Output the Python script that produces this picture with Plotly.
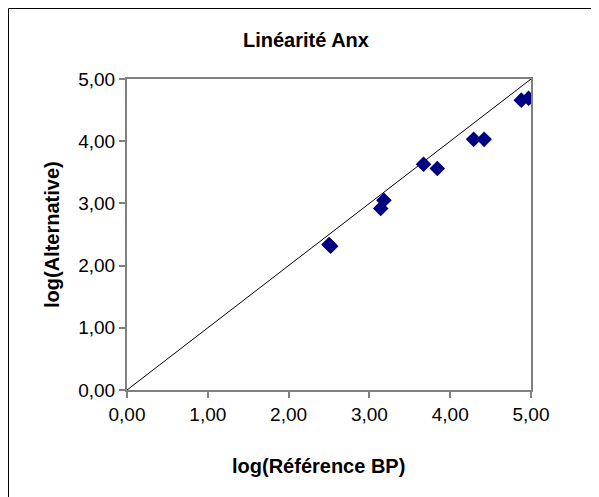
import plotly.graph_objects as go

ref_bp = [2.50, 2.52, 3.14, 3.18, 3.67, 3.84, 4.29, 4.42, 4.88, 4.97]
alternative = [2.34, 2.31, 2.92, 3.05, 3.63, 3.56, 4.03, 4.03, 4.66, 4.69]
identity_x = [0, 5]
identity_y = [0, 5]
tick_vals = [0, 1, 2, 3, 4, 5]

W, H = 599, 497
L, R, T, B = 119, 76, 71, 115
pw, ph = W - L - R, H - T - B

def px(x):
    return (x - L) / pw

def py(y):
    return (H - B - y) / ph

fig = go.Figure()
fig.add_trace(go.Scatter(x=identity_x, y=identity_y, mode="lines",
                         line=dict(color="black", width=1), hoverinfo="skip"))
fig.add_trace(go.Scatter(x=ref_bp, y=alternative, mode="markers",
                         marker=dict(symbol="diamond", size=12, color="#000080",
                                     line=dict(width=0))))

axis_common = dict(range=[0, 5], tickvals=tick_vals, tickformat=".2f",
                   showgrid=False, zeroline=False, showline=True, mirror=True,
                   linecolor="#808080", linewidth=2, ticks="outside",
                   ticklen=6, tickwidth=2, tickcolor="#808080",
                   tickfont=dict(family="Liberation Sans, Arial", size=19, color="black"))

fig.update_layout(
    width=W, height=H, autosize=False,
    margin=dict(l=L, r=R, t=T, b=B),
    separators=", ",
    paper_bgcolor="white", plot_bgcolor="white",
    showlegend=False,
    xaxis=dict(**axis_common),
    yaxis=dict(**axis_common),
    font=dict(family="Liberation Sans, Arial", color="black"),
    annotations=[
        dict(text="<b>Linéarité Anx</b>", x=px(298), y=py(32), xref="paper", yref="paper",
             showarrow=False, xanchor="center", yanchor="middle",
             font=dict(size=20, family="Liberation Sans, Arial", color="black")),
        dict(text="<b>log(Référence BP)</b>", x=px(310), y=py(458), xref="paper", yref="paper",
             showarrow=False, xanchor="center", yanchor="middle",
             font=dict(size=20, family="Liberation Sans, Arial", color="black")),
        dict(text="<b>log(Alternative)</b>", x=px(44), y=py(227), xref="paper", yref="paper",
             showarrow=False, xanchor="center", yanchor="middle", textangle=-90,
             font=dict(size=20, family="Liberation Sans, Arial", color="black")),
    ],
    shapes=[
        dict(type="line", xref="paper", yref="paper", x0=px(0.5), y0=py(0.5), x1=px(640), y1=py(0.5),
             line=dict(color="black", width=1)),
        dict(type="line", xref="paper", yref="paper", x0=px(0.5), y0=py(0.5), x1=px(0.5), y1=py(540),
             line=dict(color="black", width=1)),
    ],
)

fig.write_html("out.html")
